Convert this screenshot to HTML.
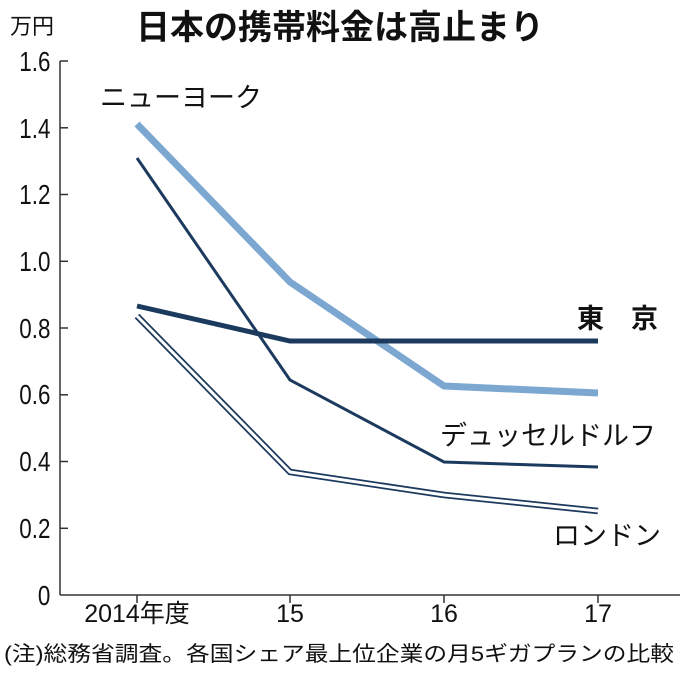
<!DOCTYPE html>
<html><head><meta charset="utf-8"><style>
html,body{margin:0;padding:0;background:#fff;}
svg{display:block;}
text{font-family:"Liberation Sans","Noto Sans CJK JP",sans-serif;fill:#111;}
</style></head><body>
<svg width="680" height="678" viewBox="0 0 680 678" xmlns="http://www.w3.org/2000/svg">
<text x="10" y="34" font-size="22">万円</text>
<text x="340" y="39" font-size="34" font-weight="bold" text-anchor="middle">日本の携帯料金は高止まり</text>
<g stroke="#333" stroke-width="1.5" fill="none">
<line x1="60" y1="61" x2="60" y2="595"/>
<line x1="60" y1="595" x2="680" y2="595"/>
<line x1="60" y1="61" x2="68" y2="61"/>
<line x1="60" y1="127.8" x2="68" y2="127.8"/>
<line x1="60" y1="194.5" x2="68" y2="194.5"/>
<line x1="60" y1="261.3" x2="68" y2="261.3"/>
<line x1="60" y1="328" x2="68" y2="328"/>
<line x1="60" y1="394.8" x2="68" y2="394.8"/>
<line x1="60" y1="461.5" x2="68" y2="461.5"/>
<line x1="60" y1="528.3" x2="68" y2="528.3"/>
<line x1="137" y1="595" x2="137" y2="603"/>
<line x1="290" y1="595" x2="290" y2="603"/>
<line x1="444" y1="595" x2="444" y2="603"/>
<line x1="598" y1="595" x2="598" y2="603"/>
</g>
<g font-size="28" text-anchor="end" transform="scale(0.8,1)">
<text x="63" y="71">1.6</text>
<text x="63" y="138">1.4</text>
<text x="63" y="204">1.2</text>
<text x="63" y="271">1.0</text>
<text x="63" y="338">0.8</text>
<text x="63" y="404">0.6</text>
<text x="63" y="471">0.4</text>
<text x="63" y="538">0.2</text>
<text x="63" y="605">0</text>
</g>
<g font-size="25" text-anchor="middle">
<text x="137" y="622">2014年度</text>
<text x="290" y="622">15</text>
<text x="444" y="622">16</text>
<text x="598" y="622">17</text>
</g>
<text x="4" y="661" font-size="21" textLength="670" lengthAdjust="spacingAndGlyphs">(注)総務省調査。各国シェア最上位企業の月5ギガプランの比較</text>
<polyline points="137,124 290,282 444,386 598,393" fill="none" stroke="#7ba7d0" stroke-width="7" stroke-linejoin="round"/>
<polyline points="137,306 290,341 444,341 598,341" fill="none" stroke="#1c3a5e" stroke-width="5"/>
<polyline points="137,158 290,380 444,462 598,467" fill="none" stroke="#1c3a5e" stroke-width="3"/>
<polyline points="137,316 290,472 444,495 598,511" fill="none" stroke="#1c3a5e" stroke-width="6.5"/>
<polyline points="137,316 290,472 444,495 598,511" fill="none" stroke="#fff" stroke-width="3"/>
<text x="100" y="107" font-size="27">ニューヨーク</text>
<text x="577" y="328" font-size="27" font-weight="bold">東　京</text>
<text x="440" y="445" font-size="27">デュッセルドルフ</text>
<text x="553" y="545" font-size="27">ロンドン</text>
</svg>
</body></html>
